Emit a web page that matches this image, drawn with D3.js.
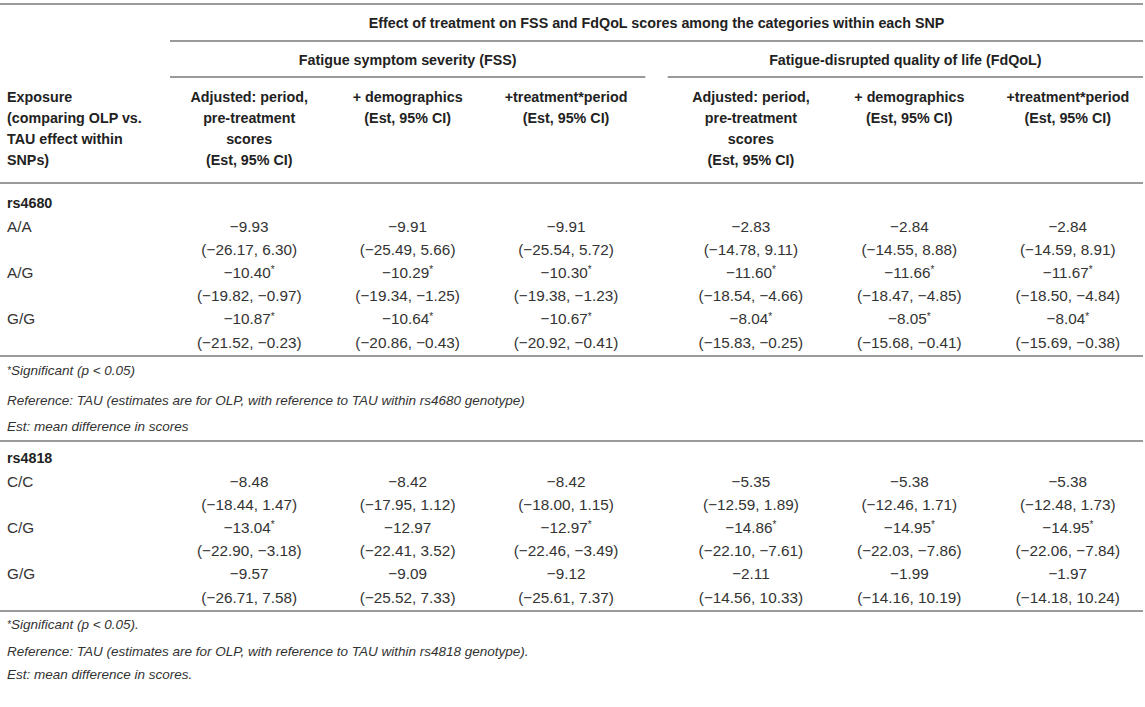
<!DOCTYPE html>
<html>
<head>
<meta charset="utf-8">
<script src="https://cdn.jsdelivr.net/npm/d3@7"></script>
<style>
  html, body { margin: 0; padding: 0; background: #fff; }
  svg { display: block; font-family: "Liberation Sans", Arial, Helvetica, sans-serif; }
  .rule { stroke: #9a9a9a; stroke-width: 2; }
  .head { font-weight: bold; fill: #222; font-size: 14.3px; }
  .cell { fill: #333; font-size: 15.3px; }
  .note { fill: #333; font-size: 13.5px; font-style: italic; }
</style>
</head>
<body>
<div id="chart"></div>
<script>
// Table data
const title = "Effect of treatment on FSS and FdQoL scores among the categories within each SNP";
const outcomes = ["Fatigue symptom severity (FSS)", "Fatigue-disrupted quality of life (FdQoL)"];
const models = [
  ["Adjusted: period,", "pre-treatment", "scores", "(Est, 95% CI)"],
  ["+ demographics", "(Est, 95% CI)"],
  ["+treatment*period", "(Est, 95% CI)"]
];
const exposureLabel = ["Exposure", "(comparing OLP vs.", "TAU effect within", "SNPs)"];

const snps = ["rs4680", "rs4818"];
const genotypes = [["A/A", "A/G", "G/G"], ["C/C", "C/G", "G/G"]];

// estimates: per SNP, per genotype, 6 columns (FSS x3, FdQoL x3)
const estimates = [
  [
    [-9.93, -9.91, -9.91, -2.83, -2.84, -2.84],
    [-10.40, -10.29, -10.30, -11.60, -11.66, -11.67],
    [-10.87, -10.64, -10.67, -8.04, -8.05, -8.04]
  ],
  [
    [-8.48, -8.42, -8.42, -5.35, -5.38, -5.38],
    [-13.04, -12.97, -12.97, -14.86, -14.95, -14.95],
    [-9.57, -9.09, -9.12, -2.11, -1.99, -1.97]
  ]
];
const significant = [
  [
    [0, 0, 0, 0, 0, 0],
    [1, 1, 1, 1, 1, 1],
    [1, 1, 1, 1, 1, 1]
  ],
  [
    [0, 0, 0, 0, 0, 0],
    [1, 0, 1, 1, 1, 1],
    [0, 0, 0, 0, 0, 0]
  ]
];
const ciLower = [
  [
    [-26.17, -25.49, -25.54, -14.78, -14.55, -14.59],
    [-19.82, -19.34, -19.38, -18.54, -18.47, -18.50],
    [-21.52, -20.86, -20.92, -15.83, -15.68, -15.69]
  ],
  [
    [-18.44, -17.95, -18.00, -12.59, -12.46, -12.48],
    [-22.90, -22.41, -22.46, -22.10, -22.03, -22.06],
    [-26.71, -25.52, -25.61, -14.56, -14.16, -14.18]
  ]
];
const ciUpper = [
  [
    [6.30, 5.66, 5.72, 9.11, 8.88, 8.91],
    [-0.97, -1.25, -1.23, -4.66, -4.85, -4.84],
    [-0.23, -0.43, -0.41, -0.25, -0.41, -0.38]
  ],
  [
    [1.47, 1.12, 1.15, 1.89, 1.71, 1.73],
    [-3.18, 3.52, -3.49, -7.61, -7.86, -7.84],
    [7.58, 7.33, 7.37, 10.33, 10.19, 10.24]
  ]
];
const footnotes = [
  ["*Significant (p < 0.05)",
   "Reference: TAU (estimates are for OLP, with reference to TAU within rs4680 genotype)",
   "Est: mean difference in scores"],
  ["*Significant (p < 0.05).",
   "Reference: TAU (estimates are for OLP, with reference to TAU within rs4818 genotype).",
   "Est: mean difference in scores."]
];

const width = 1145, height = 707;
const fmt = d3.format(".2f");

const svg = d3.select("#chart").append("svg")
  .attr("width", width).attr("height", height);

// horizontal layout
const left = 7, dataLeft = 170, right = 1143;
const xOutcome = d3.scaleBand().domain(d3.range(outcomes.length))
  .range([dataLeft, right]).paddingInner(0.045);
const xModel = d3.scaleBand().domain(d3.range(models.length))
  .range([0, xOutcome.bandwidth()]);
const colX = c => xOutcome(Math.floor(c / 3)) + xModel(c % 3) + xModel.bandwidth() / 2 + (c >= 3 ? 4 : 0);

const rule = (x1, x2, y) => svg.append("line").attr("class", "rule")
  .attr("x1", x1).attr("x2", x2).attr("y1", y).attr("y2", y);

const text = (cls, x, y, str, anchor) => svg.append("text").attr("class", cls)
  .attr("x", x).attr("y", y).attr("dy", "0.35em")
  .attr("text-anchor", anchor || "start").text(str);

// header
rule(0, right, 4);
text("head", (dataLeft + right) / 2, 23, title, "middle");
rule(dataLeft, right, 41);
outcomes.forEach((o, i) => {
  const x0 = xOutcome(i), x1 = x0 + xOutcome.bandwidth();
  text("head", (x0 + x1) / 2, 60, o, "middle");
  rule(x0, x1, 77);
});

const yHead = d3.scaleLinear().domain([0, 1]).range([97, 118]);
exposureLabel.forEach((l, i) => text("head", left, yHead(i), l));
d3.range(6).forEach(c => {
  models[c % 3].forEach((l, i) => text("head", colX(c), yHead(i), l, "middle"));
});
rule(0, right, 183);

// body blocks
const blockTop = [203, 458];
const blockRule = [356, 611];
const noteTop = [375, 629];
const noteStep = [25.5, 22.5];
const rowStep = 23.2;

snps.forEach((snp, s) => {
  const yRow = d3.scaleLinear().domain([0, 1]).range([blockTop[s], blockTop[s] + rowStep]);
  text("head", left, yRow(0), snp);
  genotypes[s].forEach((g, gi) => {
    const yEst = yRow(1 + gi * 2), yCi = yRow(2 + gi * 2);
    svg.append("text").attr("class", "cell").attr("x", left).attr("y", yEst)
      .attr("dy", "0.35em").text(g);
    d3.range(6).forEach(c => {
      const t = svg.append("text").attr("class", "cell")
        .attr("x", colX(c)).attr("y", yEst).attr("dy", "0.35em")
        .attr("text-anchor", "middle");
      t.append("tspan").text(fmt(estimates[s][gi][c]));
      if (significant[s][gi][c]) {
        t.append("tspan").attr("font-size", "10px").attr("dy", "-0.45em").text("*");
      }
      text("cell", colX(c), yCi,
        `(${fmt(ciLower[s][gi][c])}, ${fmt(ciUpper[s][gi][c])})`, "middle");
    });
  });
  rule(0, right, blockRule[s]);
  const yNote = d3.scaleLinear().domain([0, 1]).range([noteTop[s], noteTop[s] + noteStep[s]]);
  footnotes[s].forEach((n, i) => {
    const t = text("note", left, yNote(i), "");
    if (i === 0) {
      t.append("tspan").attr("font-size", "10px").attr("dy", "-0.1em").text("*");
      t.append("tspan").attr("dy", "0.1em").text(n.slice(1));
    } else {
      t.text(n);
    }
  });
  if (s === 0) rule(0, right, 441);
});
</script>
</body>
</html>
